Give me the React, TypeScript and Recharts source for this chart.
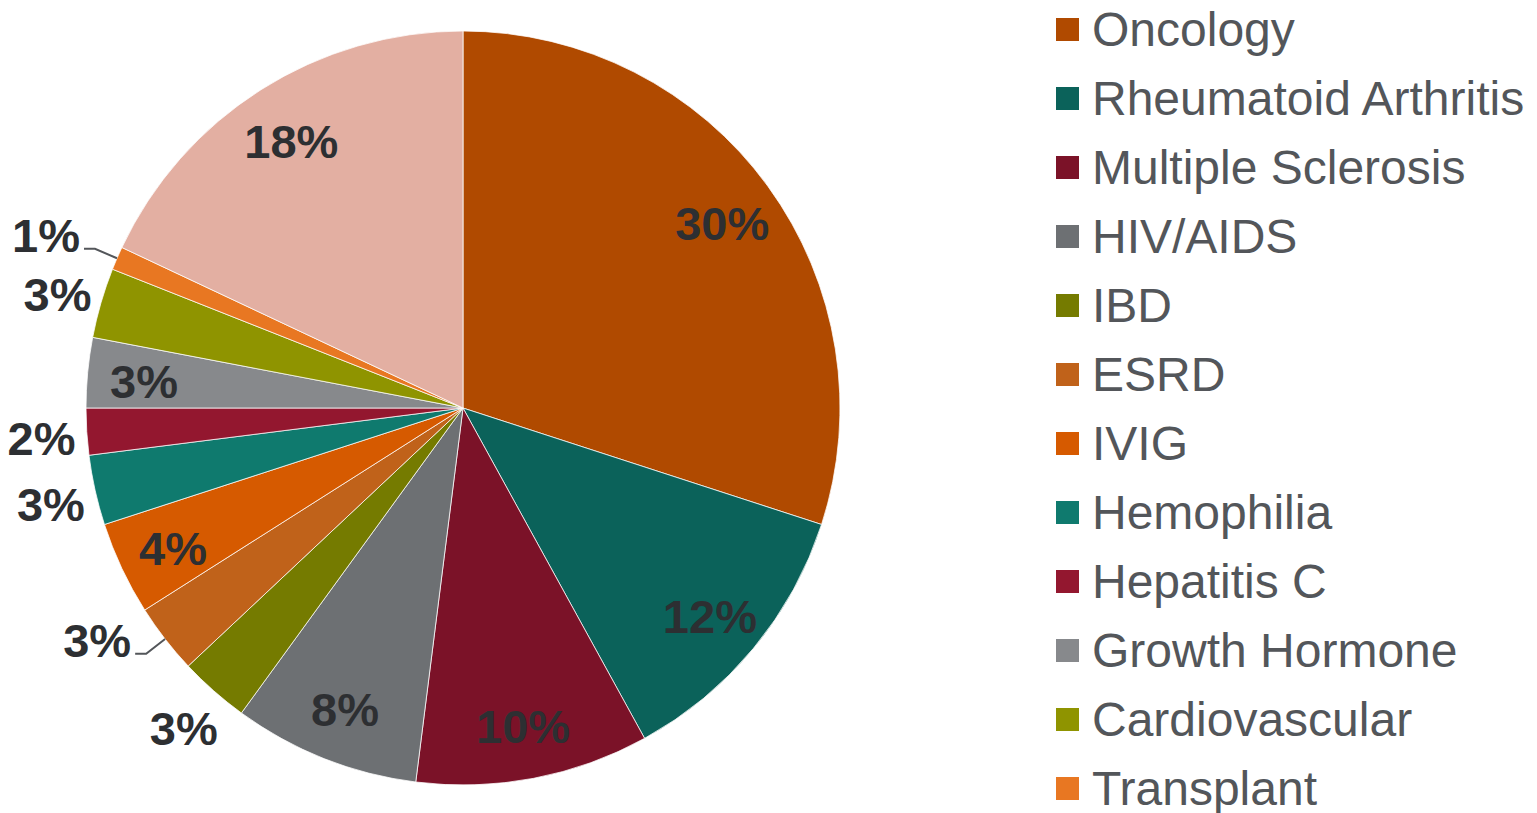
import { PieChart, Pie, Cell, Legend } from "recharts";

const categories = [
  "Oncology",
  "Rheumatoid Arthritis",
  "Multiple Sclerosis",
  "HIV/AIDS",
  "IBD",
  "ESRD",
  "IVIG",
  "Hemophilia",
  "Hepatitis C",
  "Growth Hormone",
  "Cardiovascular",
  "Transplant",
  "Other",
];
const shares = [30, 12, 10, 8, 3, 3, 4, 3, 2, 3, 3, 1, 18];
const colors = [
  "#b04a00",
  "#0b625a",
  "#7b1228",
  "#6d7073",
  "#757b00",
  "#c0621a",
  "#d65a00",
  "#0f7a6e",
  "#93172f",
  "#87898c",
  "#8f9400",
  "#e87722",
  "#e3afa2",
];

// labels drawn outside the pie, and the ones that get a leader line
const outsideLabels = new Set(["IBD", "ESRD", "Hemophilia", "Hepatitis C", "Cardiovascular", "Transplant"]);
const leaderLabels = new Set(["ESRD", "Transplant"]);
const hiddenInLegend = new Set(["Other"]);

const data = categories.map((name, i) => ({ name, value: shares[i], color: colors[i] }));

const RAD = Math.PI / 180;
const FONT = '"Liberation Sans", Arial, sans-serif';

function renderLabel(props: any) {
  const { cx, cy, midAngle, outerRadius, name, value } = props;
  const cos = Math.cos(-midAngle * RAD);
  const sin = Math.sin(-midAngle * RAD);
  const textStyle = { fontFamily: FONT, fontWeight: 700, fontSize: 47, fill: "#2d2f32" };

  if (leaderLabels.has(name)) {
    const sx = cx + outerRadius * cos;
    const sy = cy + outerRadius * sin;
    const ex = cx + (outerRadius + 24) * cos;
    const ey = cy + (outerRadius + 24) * sin;
    const hx = ex - 11;
    return (
      <g>
        <polyline points={`${sx},${sy} ${ex},${ey} ${hx},${ey}`} fill="none" stroke="#53565a" strokeWidth={2} />
        <text x={hx - 4} y={ey - 13} textAnchor="end" dominantBaseline="central" style={textStyle}>
          {`${value}%`}
        </text>
      </g>
    );
  }

  const r = outsideLabels.has(name) ? outerRadius * 1.12 : outerRadius * 0.85;
  return (
    <text
      x={cx + r * cos}
      y={cy + r * sin + 4}
      textAnchor="middle"
      dominantBaseline="central"
      style={textStyle}
    >
      {`${value}%`}
    </text>
  );
}

function renderLegend(props: any) {
  const items = (props.payload || [])
    .filter((p: any) => !hiddenInLegend.has(p.value))
    .sort((a: any, b: any) => categories.indexOf(a.value) - categories.indexOf(b.value));
  return (
    <div style={{ display: "flex", flexDirection: "column" }}>
      {items.map((item: any) => (
        <div key={item.value} style={{ display: "flex", alignItems: "center", height: 69 }}>
          <span style={{ width: 23, height: 23, background: item.color, display: "inline-block", marginRight: 13 }} />
          <span style={{ fontFamily: FONT, fontSize: 48, color: "#53565a", lineHeight: 1 }}>{item.value}</span>
        </div>
      ))}
    </div>
  );
}

export default function App() {
  return (
    <div style={{ position: "absolute", left: 0, top: 0, width: 1537, height: 813, background: "#fff" }}>
      <PieChart width={1537} height={813} margin={{ top: 0, right: 0, bottom: 0, left: 0 }}>
        <Pie
          data={data}
          dataKey="value"
          nameKey="name"
          cx={463}
          cy={408}
          outerRadius={377}
          startAngle={90}
          endAngle={-270}
          stroke="#ffffff"
          strokeWidth={0.75}
          label={renderLabel}
          labelLine={false}
          isAnimationActive={false}
        >
          {data.map((d) => (
            <Cell key={d.name} fill={d.color} />
          ))}
        </Pie>
        <Legend
          layout="vertical"
          align="right"
          verticalAlign="top"
          content={renderLegend}
          wrapperStyle={{ left: 1056, top: -5, width: 480 }}
        />
      </PieChart>
    </div>
  );
}
